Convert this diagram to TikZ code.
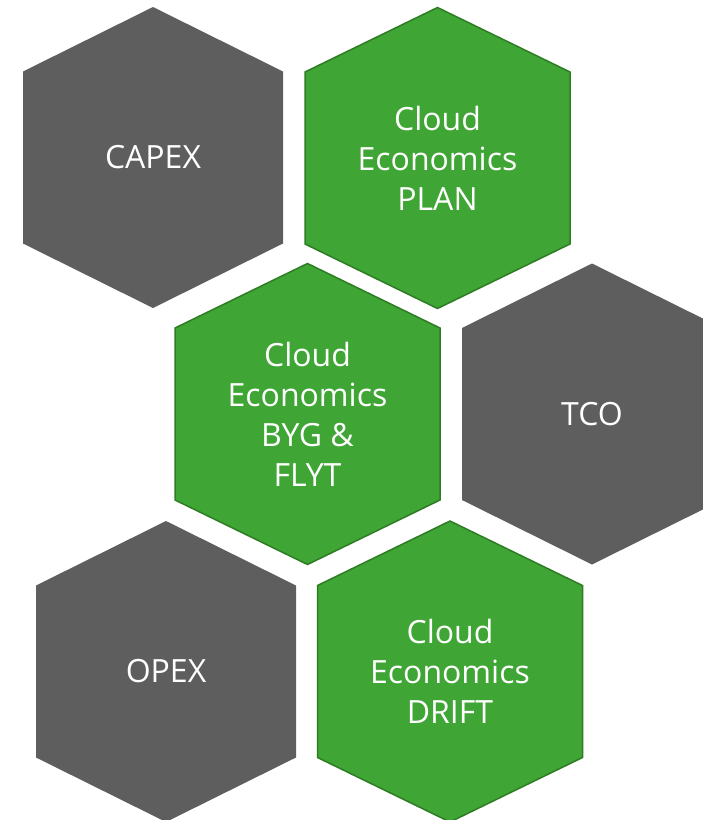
\documentclass[tikz,border=0pt]{standalone}
\usepackage{fontspec}
\setmainfont{Open Sans}
\definecolor{hexgreen}{HTML}{3FA535}
\definecolor{hexgreenedge}{HTML}{2E7D24}
\definecolor{hexgray}{HTML}{5E5E5E}
\tikzset{
  pics/hexa/.style={code={
    \path[pic actions] (0,-150.5) -- (#1,-86) -- (#1,86) -- (0,150.5) -- (-#1,86) -- (-#1,-86) -- cycle;}},
  greenhex/.style={fill=hexgreen, draw=hexgreenedge, line width=1.5pt, line join=miter},
  grayhex/.style={fill=hexgray},
  lbl/.style={text=white, align=center, inner sep=0pt, font=\fontsize{32}{40}\selectfont}
}
\begin{document}
\begin{tikzpicture}[x=1pt,y=-1pt]
\useasboundingbox (0,0) rectangle (703,820);
\clip (0,0) rectangle (703,820);
\pic[grayhex] at (153,157.5) {hexa=130};
\pic[greenhex] at (437.5,158) {hexa=132.5};
\pic[greenhex] at (307.5,414) {hexa=132.5};
\pic[grayhex] at (592,414) {hexa=130};
\pic[grayhex] at (166,671.5) {hexa=130};
\pic[greenhex] at (450,671.5) {hexa=132.5};
\node[lbl] (capex) at (153,157.5) {CAPEX};
\node[lbl] (plan) at (437.5,158) {Cloud\\Economics\\PLAN};
\node[lbl] (byg) at (307.5,414) {Cloud\\Economics\\BYG \&\\FLYT};
\node[lbl] (tco) at (592,414) {TCO};
\node[lbl] (opex) at (166,671.5) {OPEX};
\node[lbl] (drift) at (450,671.5) {Cloud\\Economics\\DRIFT};
\end{tikzpicture}
\end{document}
